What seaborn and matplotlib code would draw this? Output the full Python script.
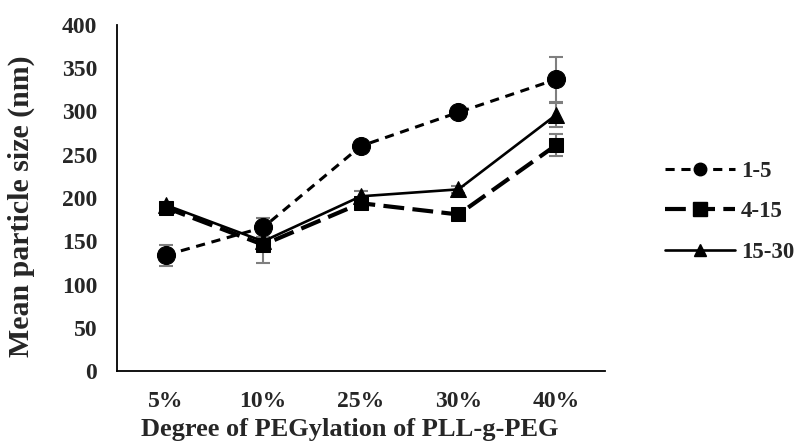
import matplotlib
matplotlib.use("Agg")
import matplotlib.pyplot as plt
import seaborn as sns
import pandas as pd
from matplotlib.lines import Line2D

categories = ["5%", "10%", "25%", "30%", "40%"]
series_names = ["1-5", "4-15", "15-30"]
vals_1_5 = [134, 166, 260, 299, 337]
err_1_5 = [12, 11, 3, 3, 26]
vals_4_15 = [189, 146, 194, 181, 261]
err_4_15 = [3, 21, 4, 5, 13]
vals_15_30 = [192, 150, 202, 210, 296]
err_15_30 = [3, 5, 6, 4, 14]

values = [vals_1_5, vals_4_15, vals_15_30]
errors = [err_1_5, err_4_15, err_15_30]

rows = []
for name, vals in zip(series_names, values):
    for i, (c, v) in enumerate(zip(categories, vals)):
        rows.append({"Degree": c, "x": i, "size": v, "series": name})
df = pd.DataFrame(rows)

sns.set_theme(style="white")
plt.rcParams["font.family"] = ["Liberation Serif", "DejaVu Serif"]
plt.rcParams["font.weight"] = "bold"

fig = plt.figure(figsize=(8, 4.45), dpi=100)
ax = fig.add_axes([0.146, 0.166, 0.610, 0.778])

styles = {
    "1-5": dict(marker="o", ms=13, lw=2.2, dashes=(3, 2.2)),
    "4-15": dict(marker="s", ms=10, lw=3.0, dashes=(5, 2)),
    "15-30": dict(marker="^", ms=11, lw=1.9, dashes=()),
}

for name, errs in zip(series_names, errors):
    sub = df[df["series"] == name]
    ax.errorbar(sub["x"], sub["size"], yerr=errs, fmt="none",
                ecolor="#7f7f7f", elinewidth=1.5, capsize=5, capthick=1.5, zorder=1)

for name in series_names:
    sub = df[df["series"] == name]
    st = styles[name]
    sns.lineplot(data=sub, x="x", y="size", ax=ax, color="black",
                 marker=st["marker"], markersize=st["ms"], linewidth=st["lw"],
                 markeredgecolor="black", markerfacecolor="black",
                 legend=False, zorder=3)
    line = ax.lines[-1]
    if st["dashes"]:
        line.set_dashes(st["dashes"])

ax.set_xlim(-0.5, 4.5)
ax.set_ylim(0, 400)
ax.set_xticks(range(len(categories)))
ax.set_xticklabels(categories, fontsize=17, fontweight="bold")
ax.set_yticks(range(0, 401, 50))
ax.set_yticklabels([str(v) for v in range(0, 401, 50)], fontsize=17, fontweight="bold")
ax.tick_params(axis="y", length=0, pad=14)
ax.tick_params(axis="x", length=0, pad=14.5)
for side in ["top", "right"]:
    ax.spines[side].set_visible(False)
for side in ["left", "bottom"]:
    ax.spines[side].set_color("black")
    ax.spines[side].set_linewidth(1.3)

ax.set_xlabel("Degree of PEGylation of PLL-g-PEG", fontsize=19, fontweight="bold", labelpad=4)
ax.xaxis.label.set_x(0.477)
ax.set_ylabel("Mean particle size (nm)", fontsize=21.5, fontweight="bold", labelpad=19)
ax.yaxis.label.set_y(0.477)

handles = [
    Line2D([], [], color="black", marker="o", ms=9, lw=2.2, dashes=(3, 2.2)),
    Line2D([], [], color="black", marker="s", ms=10, lw=3.0, dashes=(5, 2)),
    Line2D([], [], color="black", marker="^", ms=9, lw=1.9),
]
leg = fig.legend(handles, series_names, loc="center left", bbox_to_anchor=(0.831, 0.524),
                 frameon=False, handlelength=3.05, labelspacing=0.86, borderpad=0,
                 borderaxespad=0, prop={"size": 16.5, "weight": "bold"}, handletextpad=0.26)

fig.savefig("out.png", dpi=100)
